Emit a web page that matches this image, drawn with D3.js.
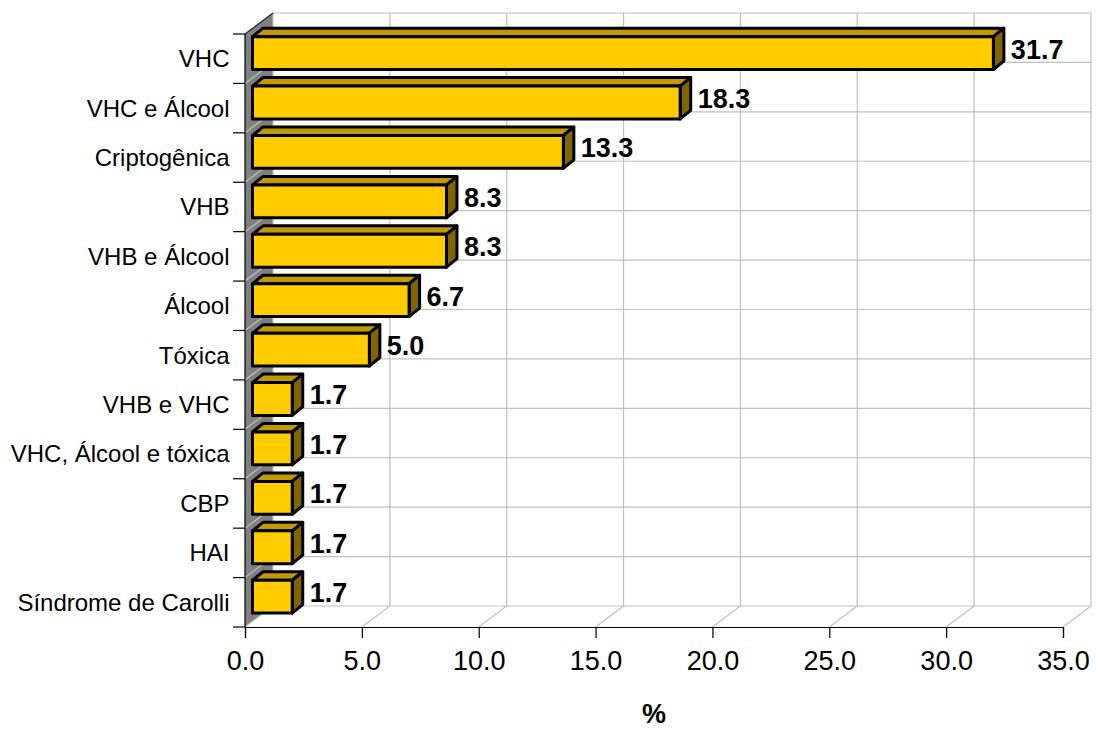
<!DOCTYPE html>
<html>
  <head>
    <meta charset="utf-8">
    <title>Etiologia</title>
    <script src="https://d3js.org/d3.v7.min.js"></script>
    <style>
      body { margin: 0; background: white; }
      text { font-family: 'Liberation Sans', Arial, sans-serif; fill: black; }
      .cat_label { font-size: 24px; text-anchor: end; }
      .value_label { font-size: 27px; font-weight: bold; }
      .x_axis text { font-size: 27px; }
      .x_title { font-size: 27px; font-weight: bold; text-anchor: middle; }
      .grid { stroke: #c0c0c0; stroke-width: 1.2px; fill: none; }
    </style>
  </head>
  <body>
    <script>

      var categories = ['VHC', 'VHC e Álcool', 'Criptogênica', 'VHB', 'VHB e Álcool', 'Álcool',
        'Tóxica', 'VHB e VHC', 'VHC, Álcool e tóxica', 'CBP', 'HAI', 'Síndrome de Carolli'];
      var values = [31.7, 18.3, 13.3, 8.3, 8.3, 6.7, 5.0, 1.7, 1.7, 1.7, 1.7, 1.7];
      var xTicks = [0, 5, 10, 15, 20, 25, 30, 35];

      var outerWidth = 1096;
      var outerHeight = 729;

      // front plane of the plot box, and how far the back wall is pushed away
      var left = 245, right = 1063, top_y = 34, bottom = 627;
      var depthX = 28, depthY = -21;

      // bar solid: sits part way into the box
      var barShiftX = 7.5, barShiftY = -5.6;
      var barDepthX = 10.5, barDepthY = -8.5;

      var svg = d3.select("body").append("svg")
        .attr("width", outerWidth)
        .attr("height", outerHeight)
        .style("display", "block");

      var xScale = d3.scaleLinear().domain([0, 35]).range([left, right]);

      var yScale = d3.scaleBand()
        .domain(categories)
        .range([top_y, bottom])
        .paddingInner(0.335)
        .paddingOuter(0.1675);

      // band edges, used for the gridlines and tick marks
      var edges = d3.range(categories.length + 1);
      var edgeY = d3.scaleLinear().domain([0, categories.length]).range([top_y, bottom]);

      function points(arr) {
        return arr.map(function(p) { return p.join(","); }).join(" ");
      }

      // side wall
      svg.append("polygon")
        .attr("points", points([[left, top_y], [left + depthX, top_y + depthY],
          [left + depthX, bottom + depthY], [left, bottom]]))
        .style("fill", "#808080");

      // back wall gridlines
      svg.selectAll(".grid_h")
        .data(edges)
        .enter()
        .append("line")
        .attr("class", "grid grid_h")
        .attr("x1", left + depthX)
        .attr("x2", right + depthX)
        .attr("y1", function(d) { return edgeY(d) + depthY; })
        .attr("y2", function(d) { return edgeY(d) + depthY; });

      svg.selectAll(".grid_v")
        .data(xTicks)
        .enter()
        .append("path")
        .attr("class", "grid grid_v")
        .attr("d", function(d) {
          return "M" + xScale(d) + "," + bottom +
            "L" + (xScale(d) + depthX) + "," + (bottom + depthY) +
            "V" + (top_y + depthY);
        });

      // diagonals across the side wall
      svg.selectAll(".grid_d")
        .data(edges.slice(1, -1))
        .enter()
        .append("line")
        .attr("class", "grid grid_d")
        .attr("x1", left)
        .attr("x2", left + depthX)
        .attr("y1", function(d) { return edgeY(d); })
        .attr("y2", function(d) { return edgeY(d) + depthY; });

      // wall top edge
      svg.append("line")
        .attr("x1", left).attr("y1", top_y)
        .attr("x2", left + depthX).attr("y2", top_y + depthY)
        .style("stroke", "#222").style("stroke-width", 1.2);

      // left axis with ticks on the band edges
      svg.append("line")
        .attr("x1", left).attr("x2", left)
        .attr("y1", top_y).attr("y2", bottom)
        .style("stroke", "black").style("stroke-width", 1.2);

      svg.selectAll(".y_tick")
        .data(edges)
        .enter()
        .append("line")
        .attr("class", "y_tick")
        .attr("x1", left - 12)
        .attr("x2", left)
        .attr("y1", function(d) { return edgeY(d); })
        .attr("y2", function(d) { return edgeY(d); })
        .style("stroke", "black")
        .style("stroke-width", 1.2);

      // bottom axis
      var xAxis = d3.axisBottom(xScale)
        .tickValues(xTicks)
        .tickSize(11)
        .tickPadding(13)
        .tickFormat(d3.format(".1f"));

      var xAxisG = svg.append("g")
        .attr("class", "x_axis")
        .attr("transform", "translate(0," + bottom + ")")
        .call(xAxis);
      xAxisG.selectAll("line, path").style("stroke", "black").style("stroke-width", 1.2);

      // bars: top, side, then front face
      var bars = svg.selectAll(".bar")
        .data(values)
        .enter()
        .append("g")
        .attr("class", "bar")
        .style("stroke", "black")
        .style("stroke-width", 3)
        .style("stroke-linejoin", "round");

      function barX0() { return xScale(0) + barShiftX; }
      function barX1(d) { return xScale(d) + barShiftX; }
      function barY0(i) { return yScale(categories[i]) + barShiftY; }
      function barY1(i) { return barY0(i) + yScale.bandwidth(); }

      bars.append("polygon")
        .style("fill", "#c09a00")
        .attr("points", function(d, i) {
          return points([[barX0(), barY0(i)], [barX0() + barDepthX, barY0(i) + barDepthY],
            [barX1(d) + barDepthX, barY0(i) + barDepthY], [barX1(d), barY0(i)]]);
        });

      bars.append("polygon")
        .style("fill", "#806600")
        .attr("points", function(d, i) {
          return points([[barX1(d), barY0(i)], [barX1(d) + barDepthX, barY0(i) + barDepthY],
            [barX1(d) + barDepthX, barY1(i) + barDepthY], [barX1(d), barY1(i)]]);
        });

      bars.append("rect")
        .style("fill", "#ffcc00")
        .attr("x", barX0())
        .attr("y", function(d, i) { return barY0(i); })
        .attr("width", function(d) { return barX1(d) - barX0(); })
        .attr("height", yScale.bandwidth());

      // value labels
      svg.selectAll(".value_label")
        .data(values)
        .enter()
        .append("text")
        .attr("class", "value_label")
        .attr("x", function(d) { return barX1(d) + 17.5; })
        .attr("y", function(d, i) { return yScale(categories[i]) + yScale.bandwidth() / 2 + barShiftY - 4; })
        .attr("dy", "0.35em")
        .text(function(d) { return d3.format(".1f")(d); });

      // category labels
      svg.selectAll(".cat_label")
        .data(categories)
        .enter()
        .append("text")
        .attr("class", "cat_label")
        .attr("x", 229.5)
        .attr("y", function(d) { return yScale(d) + yScale.bandwidth() / 2; })
        .attr("dy", "0.35em")
        .text(function(d) { return d; });

      svg.append("text")
        .attr("class", "x_title")
        .attr("x", 654)
        .attr("y", 723)
        .text("%");

    </script>
  </body>
</html>
